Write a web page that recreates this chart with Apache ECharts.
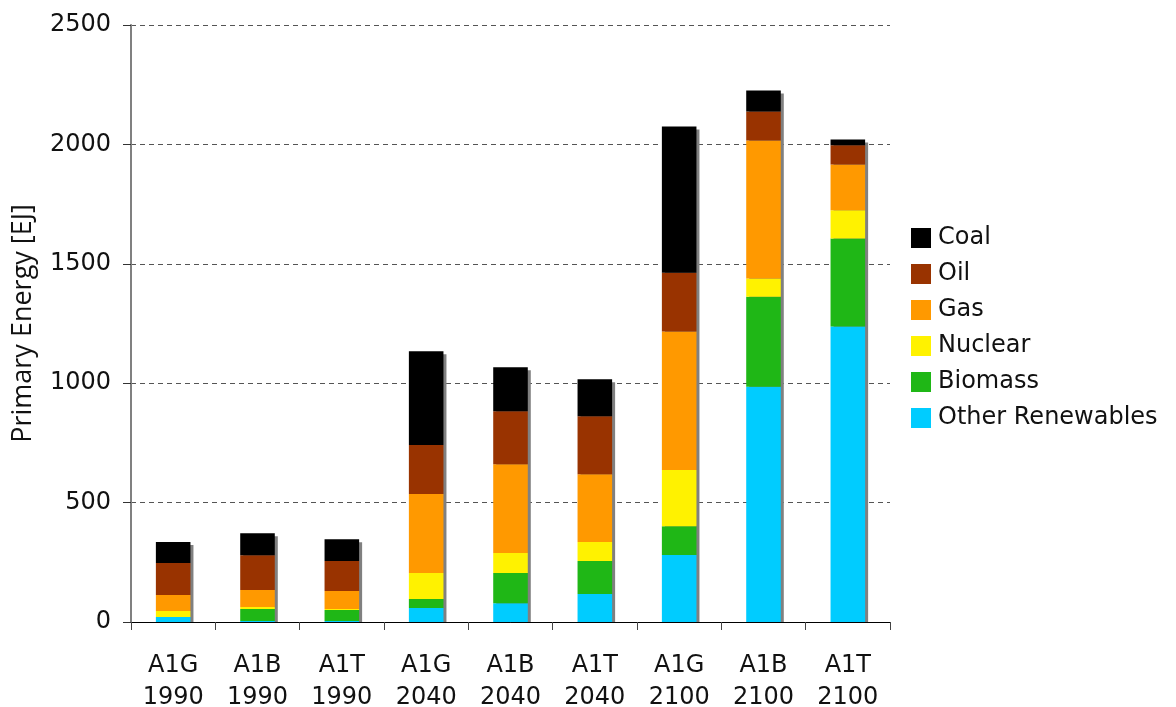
<!DOCTYPE html>
<html>
<head>
<meta charset="utf-8">
<title>Primary Energy by Scenario</title>
<script src="https://cdn.jsdelivr.net/npm/echarts@6/dist/echarts.min.js"></script>
<style>
  html, body { margin: 0; padding: 0; background: #ffffff; }
  #chart { width: 1176px; height: 707px; }
</style>
</head>
<body>
<div id="chart"></div>
<script>
// Scenario / year pairs along the category axis
const scenarios = ['A1G', 'A1B', 'A1T', 'A1G', 'A1B', 'A1T', 'A1G', 'A1B', 'A1T'];
const years = ['1990', '1990', '1990', '2040', '2040', '2040', '2100', '2100', '2100'];

// Primary energy by source [EJ], stacked bottom to top
const otherRenewables = [21, 4, 4, 59, 79, 117, 281, 985, 1237];
const biomass = [0, 50, 46, 37, 126, 138, 120, 377, 369];
const nuclear = [25, 9, 4, 109, 84, 80, 236, 76, 118];
const gas = [67, 71, 76, 331, 372, 284, 579, 578, 192];
const oil = [134, 146, 125, 205, 222, 243, 247, 122, 80];
const coal = [88, 92, 92, 393, 184, 155, 612, 88, 25];

// Value axis ticks
const yTicks = [0, 500, 1000, 1500, 2000, 2500];

const categories = scenarios.map((s, i) => s + '\n' + years[i]);

const sources = [
  { name: 'Other Renewables', data: otherRenewables, color: '#00CCFF' },
  { name: 'Biomass', data: biomass, color: '#1FB716' },
  { name: 'Nuclear', data: nuclear, color: '#FFF200' },
  { name: 'Gas', data: gas, color: '#FF9900' },
  { name: 'Oil', data: oil, color: '#993300' },
  { name: 'Coal', data: coal, color: '#000000' }
];

// Column totals, used for the drop shadow behind each stack
const totals = categories.map((_, i) => sources.reduce((acc, s) => acc + s.data[i], 0));

const BAR_RATIO = 0.41;
const FONT = '"DejaVu Sans", Verdana, sans-serif';

const chart = echarts.init(document.getElementById('chart'), null, { renderer: 'canvas' });

const barSeries = sources.map(s => ({
  name: s.name,
  type: 'bar',
  stack: 'energy',
  barWidth: (BAR_RATIO * 100) + '%',
  itemStyle: { color: s.color },
  emphasis: { disabled: true },
  z: 3,
  data: s.data
}));

const shadowSeries = {
  name: 'shadow',
  type: 'custom',
  z: 2,
  silent: true,
  data: totals.map((t, i) => [i, t]),
  renderItem: function (params, api) {
    const top = api.coord([api.value(0), api.value(1)]);
    const base = api.coord([api.value(0), 0]);
    const bw = api.size([1, 0])[0] * BAR_RATIO;
    const off = 3;
    return {
      type: 'rect',
      shape: {
        x: top[0] - bw / 2 + off,
        y: top[1] + off,
        width: bw,
        height: base[1] - top[1] - off
      },
      style: { fill: '#808080' }
    };
  }
};

chart.setOption({
  animation: false,
  backgroundColor: '#ffffff',
  grid: { left: 131, right: 286, top: 25, bottom: 85, containLabel: false, outerBoundsMode: 'none' },
  legend: {
    data: ['Coal', 'Oil', 'Gas', 'Nuclear', 'Biomass', 'Other Renewables'],
    orient: 'vertical',
    left: 911,
    top: 226,
    padding: 0,
    itemWidth: 20,
    itemHeight: 20,
    itemGap: 12,
    icon: 'rect',
    selectedMode: false,
    textStyle: { fontFamily: FONT, fontSize: 24, color: '#111111', lineHeight: 24, padding: [0, 0, 0, 2] }
  },
  xAxis: {
    type: 'category',
    data: categories,
    axisLine: { lineStyle: { color: '#000000', width: 1 } },
    axisTick: { show: true, length: 8, lineStyle: { color: '#444444' } },
    axisLabel: {
      fontFamily: FONT,
      fontSize: 24,
      lineHeight: 32,
      color: '#111111',
      margin: 28,
      interval: 0
    },
    splitLine: { show: false }
  },
  yAxis: {
    type: 'value',
    min: yTicks[0],
    max: yTicks[yTicks.length - 1],
    interval: yTicks[1] - yTicks[0],
    name: 'Primary Energy [EJ]',
    nameLocation: 'middle',
    nameGap: 94,
    nameTextStyle: { fontFamily: '"Open Sans", "Noto Sans", sans-serif', fontSize: 27, color: '#111111' },
    axisLine: { show: true, lineStyle: { color: '#808080', width: 2 } },
    axisTick: { show: true, length: 8, lineStyle: { color: '#333333' } },
    axisLabel: {
      fontFamily: FONT,
      fontSize: 24,
      color: '#111111',
      margin: 20,
      formatter: v => String(v)
    },
    splitLine: { show: true, lineStyle: { color: '#555555', type: [5, 4], width: 1 } }
  },
  series: [shadowSeries].concat(barSeries)
});
</script>
</body>
</html>
